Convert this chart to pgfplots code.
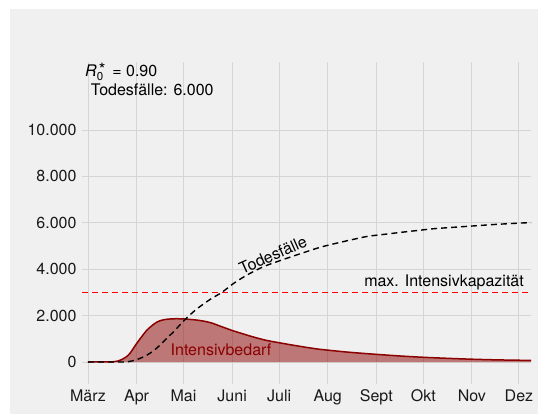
\documentclass[border=0pt]{standalone}
\usepackage{fontspec}
\setmainfont{TeX Gyre Heros}
\usepackage{pgfplots}
\usepackage{pgfplotstable}
\pgfplotsset{compat=1.18}
\definecolor{bgc}{RGB}{240,240,240}
\definecolor{gridc}{RGB}{213,213,213}
\definecolor{dred}{RGB}{139,0,0}

\pgfplotstableread{
day val
0 0
20 0
24.7 5
29 60
33.4 160
37.7 300
42 490
46 730
50 1000
54.7 1310
59 1620
63 1900
69.5 2290
78 2700
85.4 3000
93 3390
101.5 3750
112 4110
122.6 4370
133 4610
146 4900
153 5030
165 5220
178 5410
190 5510
200 5590
220 5740
230 5790
245 5860
260 5930
275 5985
283 6010
}\deaths

\pgfplotstableread{
day val
0 0
12 2
16 10
19 40
21 90
23 160
25 250
27 390
29 590
31 790
33.4 1010
35.5 1200
37.7 1380
40 1520
42 1630
44 1720
46 1780
49 1830
52.6 1855
56 1865
59 1862
63 1848
69 1810
74 1760
79 1680
85 1530
92 1360
100 1190
107 1050
114 930
122 830
130 735
139 635
147 555
156 490
165 430
176 370
184 330
199 260
214 203
230 157
245 120
260 93
275 76
283 70
}\icu

\begin{document}
\fontsize{16}{19}\selectfont
\begin{tikzpicture}[x=1pt,y=1pt]
\useasboundingbox (0,0) rectangle (538,414);
\fill[white] (0,0) rectangle (538,414);
\fill[bgc] (10,0) rectangle (538,405);
\begin{axis}[
  at={(82pt,30pt)}, anchor=south west,
  scale only axis, width=449pt, height=322pt,
  xmin=-3.8, xmax=282.7, ymin=-948, ymax=12930,
  xtick={0,31,61,92,122,153,184,214,245,275},
  xticklabels={März,Apr,Mai,Juni,Juli,Aug,Sept,Okt,Nov,Dez},
  ytick={0,2000,4000,6000,8000,10000},
  grid=major,
  major grid style={color=gridc, line width=0.9pt},
  axis line style={draw=none},
  major tick length=0pt,
  tick label style={font=\fontsize{16}{19}\selectfont, text=black!90},
  scaled y ticks=false,
  /pgf/number format/assume math mode=true,
  yticklabel style={/pgf/number format/.cd, 1000 sep={.}},
]
\addplot[fill=dred, fill opacity=0.5, draw=none, smooth, tension=0.4] table[x=day,y=val] {\icu} \closedcycle;
\addplot[dred, line width=1.5pt, smooth, tension=0.4] table[x=day,y=val] {\icu};
\addplot[black, line width=1.4pt, dash pattern=on 6pt off 4pt, smooth, tension=0.4] table[x=day,y=val] {\deaths};
\addplot[red, line width=1.4pt, dash pattern=on 6pt off 4pt] coordinates {(-10,3000) (290,3000)};
\end{axis}
\node[anchor=base west, inner sep=0pt] at (85,337) {\textit{R}\makebox[0pt][l]{\raisebox{-4pt}{\fontsize{11.5}{11}\selectfont 0}}\hspace{2pt}\raisebox{1.5pt}{\fontsize{17}{11}\selectfont *}\hspace{7pt}= 0.90};
\node[anchor=base west, inner sep=0pt] at (90.7,318.3) {Todesfälle: 6.000};
\node[rotate=24, inner sep=0pt] at (273,159) {Todesfälle};
\node[anchor=base east, inner sep=0pt] at (524,127) {max. Intensivkapazität};
\node[anchor=base, inner sep=0pt, text=dred] at (221,58) {Intensivbedarf};
\end{tikzpicture}
\end{document}
